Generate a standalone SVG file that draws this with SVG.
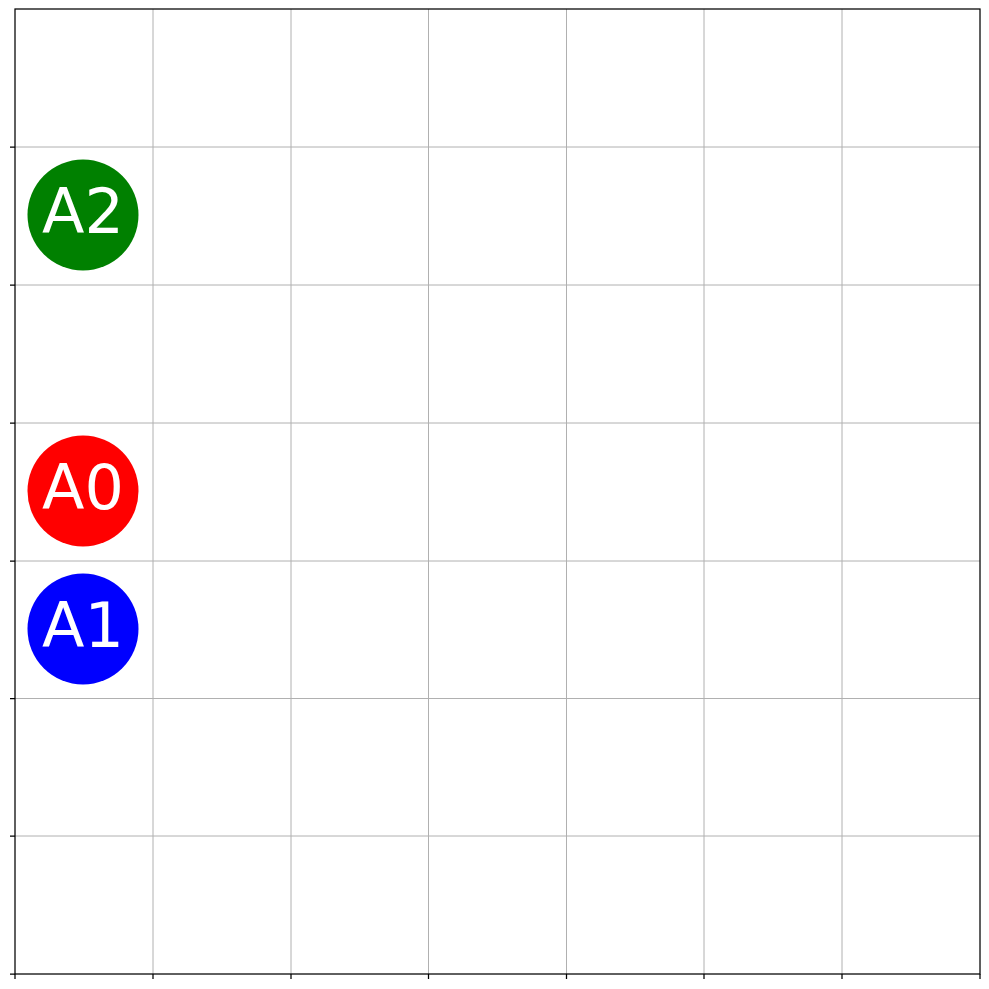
<svg xmlns="http://www.w3.org/2000/svg" width="989" height="989" viewBox="0 0 989 989">
<style>
.grid{stroke:#b0b0b0;stroke-width:1;fill:none}
.axis{stroke:#000;stroke-width:1.25;fill:none}
.tick{stroke:#000;stroke-width:1.25}
.lbl{font-family:"DejaVu Sans",sans-serif;font-size:62px;fill:#fff;text-anchor:middle}
</style>
<rect width="989" height="989" fill="#fff"/>
<g id="grid">
<path class="grid" d="M153 9V974M291 9V974M428.5 9V974M566.5 9V974M704 9V974M842 9V974M15 147H980M15 285H980M15 423H980M15 561H980M15 698.5H980M15 836H980"/>
</g>
<g id="ticks">
<path class="tick" d="M10 147H15M10 285H15M10 423H15M10 561H15M10 698.5H15M10 836H15M10 974H15M15 974V979M153 974V979M291 974V979M428.5 974V979M566.5 974V979M704 974V979M842 974V979M980 974V979"/>
</g>
<rect class="axis" x="15" y="9" width="965" height="965"/>
<g id="A2"><circle cx="83" cy="215" r="55.5" fill="#008000"/><text class="lbl" x="83" y="233">A2</text></g>
<g id="A0"><circle cx="83" cy="491" r="55.5" fill="#ff0000"/><text class="lbl" x="83" y="509">A0</text></g>
<g id="A1"><circle cx="83" cy="629" r="55.5" fill="#0000ff"/><text class="lbl" x="83" y="647">A1</text></g>
<g id="connectors"></g>
</svg>
